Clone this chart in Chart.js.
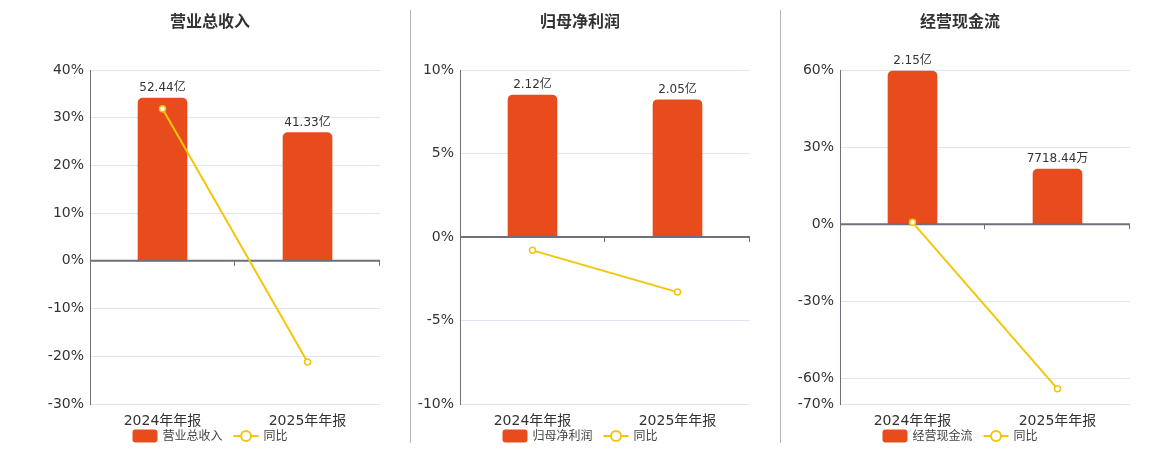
<!DOCTYPE html>
<html><head><meta charset="utf-8">
<script src="https://cdn.jsdelivr.net/npm/chart.js@4.4.1/dist/chart.umd.min.js"></script>
<style>
html,body{margin:0;padding:0;background:#fff;width:1160px;height:450px;overflow:hidden;}
.panel{position:absolute;top:0;width:380px;height:450px;}
.sep{position:absolute;top:10px;width:1px;height:433px;background:#b4b4b4;}
</style></head><body>
<div class="panel" style="left:20px"><canvas id="c1" width="380" height="450"></canvas></div>
<div class="panel" style="left:390px"><canvas id="c2" width="380" height="450"></canvas></div>
<div class="panel" style="left:770px"><canvas id="c3" width="380" height="450"></canvas></div>
<div class="sep" style="left:410px"></div>
<div class="sep" style="left:780px"></div>
<script>
// ---- data ----
const categories = ['2024年年报', '2025年年报'];
const yoyLabel = '同比';

const revenueTitle = '营业总收入';
const revenueBars = [52.44, 41.33];            // 亿
const revenueBarLabels = ['52.44亿', '41.33亿'];
const revenueYoY = [31.9, -21.2];              // %
const revenueTicks = [-30, -20, -10, 0, 10, 20, 30, 40];

const profitTitle = '归母净利润';
const profitBars = [2.12, 2.05];               // 亿
const profitBarLabels = ['2.12亿', '2.05亿'];
const profitYoY = [-0.8, -3.3];
const profitTicks = [-10, -5, 0, 5, 10];

const cashTitle = '经营现金流';
const cashBars = [2.15, 0.771844];             // 亿
const cashBarLabels = ['2.15亿', '7718.44万'];
const cashYoY = [0.7, -64.1];
const cashTicks = [-70, -60, -30, 0, 30, 60];

// ---- styles ----
const BAR = 'rgb(232,76,29)';
const LINE = 'rgb(242,198,10)';
const TXT = '#333';
const FONT = '"DejaVu Sans", "Noto Sans CJK SC", sans-serif';
Chart.defaults.font.family = FONT;

function roundRect(ctx, x, y, w, h, r) {
  ctx.beginPath();
  ctx.moveTo(x + r, y);
  ctx.lineTo(x + w - r, y); ctx.arcTo(x + w, y, x + w, y + r, r);
  ctx.lineTo(x + w, y + h - r); ctx.arcTo(x + w, y + h, x + w - r, y + h, r);
  ctx.lineTo(x + r, y + h); ctx.arcTo(x, y + h, x, y + h - r, r);
  ctx.lineTo(x, y + r); ctx.arcTo(x, y, x + r, y, r);
  ctx.closePath();
}

const decor = {
  id: 'decor',
  beforeDatasetDraw(chart, args) {
    if (args.index !== 1) return;
    const ctx = chart.ctx;
    const y0 = chart.scales.y.getPixelForValue(0);
    const {left, right} = chart.chartArea;
    ctx.save();
    ctx.strokeStyle = '#6e7079';
    ctx.lineWidth = 2;
    ctx.beginPath(); ctx.moveTo(left, y0); ctx.lineTo(right, y0); ctx.stroke();
    ctx.lineWidth = 1;
    const n = chart.data.labels.length;
    for (let i = 1; i <= n; i++) {
      const x = Math.round(left + i * (right - left) / n) - 0.5;
      ctx.beginPath(); ctx.moveTo(x, y0); ctx.lineTo(x, y0 + 5); ctx.stroke();
    }
    ctx.restore();
  },
  afterDatasetsDraw(chart) {
    const ctx = chart.ctx;
    const ds = chart.data.datasets[0];
    const meta = chart.getDatasetMeta(0);
    ctx.save();
    ctx.fillStyle = TXT;
    ctx.font = '12px ' + FONT;
    ctx.textAlign = 'center';
    ctx.textBaseline = 'bottom';
    meta.data.forEach((el, i) => ctx.fillText(ds.barLabels[i], el.x, el.y - 4));
    ctx.restore();
  },
  afterDraw(chart) {
    const ctx = chart.ctx;
    const cx = chart.width / 2;
    ctx.save();
    ctx.fillStyle = TXT;
    ctx.font = 'bold 16px ' + FONT;
    ctx.textAlign = 'center';
    ctx.textBaseline = 'middle';
    ctx.fillText(chart.data.datasets[0].label, cx, 22.5);
    // legend
    ctx.font = '12px ' + FONT;
    const t1 = chart.data.datasets[0].label, t2 = chart.data.datasets[1].label;
    const w1 = ctx.measureText(t1).width, w2 = ctx.measureText(t2).width;
    const total = 25 + 5 + w1 + 11 + 25 + 5 + w2;
    let x = cx - total / 2;
    const ly = 436;
    ctx.fillStyle = BAR;
    roundRect(ctx, x, ly - 6.5, 25, 13, 3); ctx.fill();
    x += 30;
    ctx.fillStyle = '#444';
    ctx.textAlign = 'left';
    ctx.fillText(t1, x, ly + 0.5);
    x += w1 + 11;
    ctx.strokeStyle = LINE; ctx.lineWidth = 2;
    ctx.beginPath(); ctx.moveTo(x, ly); ctx.lineTo(x + 25, ly); ctx.stroke();
    ctx.beginPath(); ctx.arc(x + 12.5, ly, 5, 0, Math.PI * 2);
    ctx.fillStyle = '#fff'; ctx.fill(); ctx.stroke();
    x += 30;
    ctx.fillStyle = '#444';
    ctx.fillText(t2, x, ly + 0.5);
    ctx.restore();
  }
};

function makePanel(id, title, bars, barLabels, yoy, ticks, barAxisMax) {
  const pctMin = Math.min(...ticks), pctMax = Math.max(...ticks);
  return new Chart(document.getElementById(id), {
    data: {
      labels: categories,
      datasets: [
        {type: 'bar', label: title, data: bars, barLabels: barLabels, yAxisID: 'yBar',
         backgroundColor: BAR, borderRadius: 5, barThickness: 49, order: 2},
        {type: 'line', label: yoyLabel, data: yoy, yAxisID: 'y',
         borderColor: LINE, borderWidth: 2, pointRadius: 3, pointBackgroundColor: '#fff',
         pointBorderColor: LINE, pointBorderWidth: 1.5, tension: 0, order: 1, clip: false}
      ]
    },
    options: {
      responsive: false, animation: false,
      layout: {padding: {top: 70, right: 20, bottom: 20, left: 0}},
      plugins: {legend: {display: false}, tooltip: {enabled: false}, title: {display: false}},
      scales: {
        x: {
          grid: {display: false, drawTicks: false}, border: {display: false},
          ticks: {padding: 9, color: TXT, font: {size: 14}, maxRotation: 0},
          afterFit(s) { s.height = 26; }
        },
        y: {
          position: 'left', min: pctMin, max: pctMax,
          afterBuildTicks(s) { s.ticks = ticks.map(v => ({value: v})); },
          grid: {color: '#e0e6f1', drawTicks: false},
          border: {display: true, color: '#6e7079', width: 1},
          ticks: {padding: 6, color: TXT, font: {size: 14}, callback: v => v + '%'},
          afterFit(s) { s.width = 70; }
        },
        yBar: {display: false, position: 'right', min: barAxisMax * pctMin / pctMax, max: barAxisMax}
      }
    },
    plugins: [decor]
  });
}

makePanel('c1', revenueTitle, revenueBars, revenueBarLabels, revenueYoY, revenueTicks, 61.5);
makePanel('c2', profitTitle, profitBars, profitBarLabels, profitYoY, profitTicks, 2.494);
makePanel('c3', cashTitle, cashBars, cashBarLabels, cashYoY, cashTicks, 2.164);
</script>
</body></html>
